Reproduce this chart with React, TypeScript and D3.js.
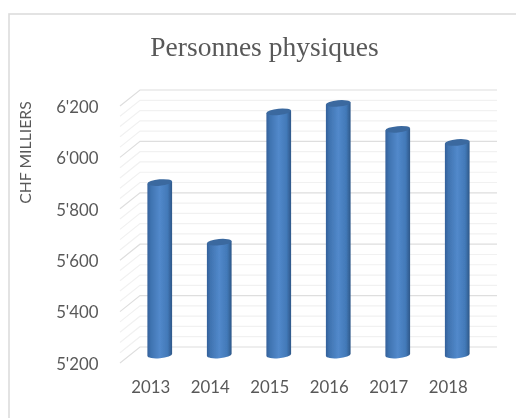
import React, { useEffect, useRef } from 'react';
import * as d3 from 'd3';

const years = ['2013', '2014', '2015', '2016', '2017', '2018'];
const amounts = [5871, 5639, 6146, 6179, 6078, 6027];
const majorTicks = [5200, 5400, 5600, 5800, 6000, 6200];
const minorTicks = [5240, 5280, 5320, 5360, 5440, 5480, 5520, 5560, 5640, 5680, 5720, 5760, 5840, 5880, 5920, 5960, 6040, 6080, 6120, 6160];
const chartTitle = 'Personnes physiques';
const yTitle = 'CHF MILLIERS';

const width = 516;
const height = 418;
const depth = { x: 20, y: -16 };
const sans = 'Lato, Carlito, sans-serif';

const App = () => {
    const ref = useRef<SVGSVGElement | null>(null);

    useEffect(() => {
        if (!ref.current) return;
        const svg = d3.select(ref.current);
        svg.selectAll('*').remove();

        const x = d3.scaleBand().domain(years).range([120, 477]).paddingInner(0).paddingOuter(0);
        const y = d3.scaleLinear().domain([5200, 6200]).range([363, 106]);
        const fmt = d3.formatLocale({ decimal: '.', thousands: "'", grouping: [3], currency: ['', ''] }).format(',');

        const defs = svg.append('defs');
        // the reference is a slightly soft screenshot
        defs.append('filter').attr('id', 'soft')
            .append('feGaussianBlur').attr('stdDeviation', 0.35);
        const grad = defs.append('linearGradient').attr('id', 'barBody');
        [['0%', '#34609a'], ['14%', '#3f73b0'], ['50%', '#5289cb'], ['82%', '#4279b8'], ['100%', '#2e5788']]
            .forEach(([o, c]) => grad.append('stop').attr('offset', o).attr('stop-color', c));

        const root = svg.append('g').attr('filter', 'url(#soft)');

        // frame runs off the right and bottom of the picture
        root.append('rect')
            .attr('x', 9).attr('y', 14)
            .attr('width', width).attr('height', height)
            .attr('fill', 'white').attr('stroke', '#dcdcdc').attr('stroke-width', 1.6);

        root.append('text')
            .attr('x', 264.5).attr('y', 56)
            .attr('text-anchor', 'middle')
            .attr('font-family', '"Liberation Serif", serif')
            .attr('font-size', 27.5)
            .attr('fill', '#595959')
            .text(chartTitle);

        root.append('text')
            .attr('transform', 'translate(31,152.5) rotate(-90)')
            .attr('text-anchor', 'middle')
            .attr('font-family', sans)
            .attr('font-size', 15.8)
            .attr('fill', '#595959')
            .text(yTitle);

        // floor-to-wall grid, minor lines first
        const drawGrid = (ticks: number[], color: string) => {
            const g = root.append('g').attr('fill', 'none');
            ticks.forEach(t => {
                g.append('path')
                    .attr('d', `M120,${y(t)}L${120 + depth.x},${y(t) + depth.y}L${477 + depth.x},${y(t) + depth.y}`)
                    .attr('stroke', color).attr('stroke-width', 1.2);
            });
        };
        drawGrid(minorTicks, '#f1f1f1');
        drawGrid(majorTicks, '#dedede');

        const barWidth = 24.7;
        const rx = barWidth / 2;
        const ry = 3.2;
        const tilt = -5;
        const tip = rx * Math.sin((-tilt * Math.PI) / 180);
        const base = y(5200) + depth.y / 2;

        const bars = root.append('g');
        years.forEach((year, i) => {
            const cx = x(year)! + x.bandwidth() / 2 + depth.x / 2;
            const top = y(amounts[i]) + depth.y / 2;
            const xl = cx - rx;
            const xr = cx + rx;
            bars.append('path')
                .attr('d', `M${xl},${top + tip}L${xl},${base + tip}A${rx},${ry} ${tilt} 0 0 ${xr},${base - tip}L${xr},${top - tip}Z`)
                .attr('fill', 'url(#barBody)');
            bars.append('ellipse')
                .attr('cx', cx).attr('cy', top)
                .attr('rx', rx).attr('ry', ry)
                .attr('transform', `rotate(${tilt} ${cx} ${top})`)
                .attr('fill', '#3b699f');
        });

        const yAxis = d3.axisLeft(y).tickValues(majorTicks).tickFormat(d => fmt(d as number)).tickSize(0).tickPadding(0);
        const yG = root.append('g').attr('transform', 'translate(98.5,1)').call(yAxis);
        const xAxis = d3.axisBottom(x).tickSize(0).tickPadding(0);
        const xG = root.append('g').attr('transform', 'translate(1,381)').call(xAxis);
        [yG, xG].forEach(g => {
            g.select('.domain').remove();
            g.selectAll('text')
                .attr('font-family', sans)
                .attr('font-size', 16.8)
                .attr('fill', '#595959');
        });
    }, []);

    return (
        <svg
            ref={ref}
            width={width}
            height={height}
            style={{ position: 'absolute', left: 0, top: 0, background: 'white' }}
        />
    );
};

export default App;
